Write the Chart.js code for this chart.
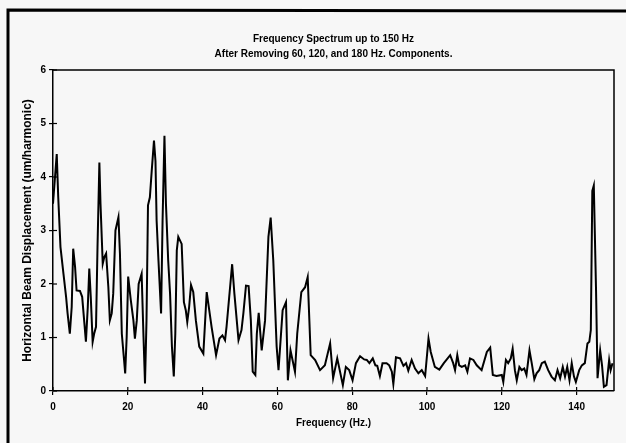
<!DOCTYPE html>
<html>
<head>
<meta charset="utf-8">
<script src="https://cdn.jsdelivr.net/npm/chart.js@4.4.1/dist/chart.umd.min.js"></script>
<style>
  html, body { margin: 0; padding: 0; background: #f7f7f7; }
  #wrap { width: 626px; height: 443px; position: relative; }
</style>
</head>
<body>
<div id="wrap"><canvas id="myChart"></canvas></div>
<script>
// DADOS (frequência em Hz, amplitude em um/harmonic)
var freq = [
  0, 1.0, 1.4, 2.0, 2.8, 3.5, 3.9, 4.5, 5.0, 5.4, 5.9, 6.3, 7.2, 7.8, 8.4, 8.8, 9.3, 9.7, 10.1, 10.6,
  11.0, 11.5, 11.9, 12.4, 12.7, 13.3, 13.7, 14.2, 14.8, 15.2, 15.7, 16.1, 16.7, 17.5, 17.9, 18.4, 19.0, 19.3, 19.7, 20.1,
  20.8, 21.5, 21.9, 22.4, 22.9, 23.7, 24.2, 24.6, 25.0, 25.4, 25.9, 26.4, 27.0, 27.4, 27.7, 28.2, 28.9, 29.3, 29.8, 30.2,
  30.8, 31.3, 31.8, 32.3, 32.7, 33.1, 33.5, 34.4, 35.0, 35.5, 35.9, 36.4, 36.9, 37.5, 38.2, 39.1,
  40.2, 41.1, 42.4, 43.6, 44.5, 45.3, 46.0, 46.4, 47.9, 48.5, 49.6, 50.4, 50.9, 51.6, 52.3, 52.9, 53.4, 54.1, 54.5, 55.0,
  55.8, 56.7, 57.6, 58.2, 58.9, 59.8, 60.3, 61.4, 62.3, 62.8, 63.5, 64.7, 65.3, 66.4, 67.4, 68.1, 68.9, 70.1, 71.4, 72.7,
  74.1, 74.9, 76.0, 77.5, 78.3, 79.2,
  80.1, 81.0, 82.1, 83.2, 83.9, 84.6, 85.5, 86.2, 86.7, 87.4, 88.1, 89.2, 89.9, 90.6, 91.0, 91.7, 92.8, 93.7, 94.4, 95.0,
  95.9, 96.8, 97.7, 98.6, 99.5, 100.4, 101.0, 102.1, 103.3, 104.5, 106.2, 107.0, 107.5, 108.1, 108.6, 109.3, 110.2, 110.8, 111.5, 112.4,
  113.3, 114.6, 116.0, 116.9, 117.6, 118.6,
  120.0, 120.4, 121.1, 121.7, 122.4, 122.9, 123.5, 124.0, 124.7, 125.3, 126.0, 126.6, 127.4, 128.0, 128.7, 129.3, 130.0, 130.7, 131.5, 132.4,
  133.3, 134.2, 134.9, 135.6, 136.3, 136.9, 137.5, 138.1, 138.7, 139.3, 139.8, 140.7, 141.4, 142.2, 142.9, 143.4, 143.8, 144.2, 144.6, 145.2,
  145.6, 146.3, 146.8, 147.3, 148.0, 148.7, 149.1, 149.6
];
var amp = [
  3.5, 4.43, 3.62, 2.69, 2.19, 1.76, 1.45, 1.07, 1.57, 2.66, 2.32, 1.88, 1.87, 1.76, 1.26, 0.92, 1.57, 2.29, 1.76, 0.92,
  1.07, 1.2, 2.69, 4.27, 3.5, 2.38, 2.5, 2.57, 1.94, 1.32, 1.45, 1.82, 3.0, 3.25, 2.57, 1.07, 0.58, 0.33, 1.01, 2.14,
  1.7, 1.32, 0.98, 1.32, 2.0, 2.19, 1.01, 0.14, 1.32, 3.47, 3.62, 4.12, 4.68, 4.3, 3.19, 2.44, 1.45, 3.19, 4.77, 3.5,
  2.44, 1.82, 0.83, 0.27, 1.07, 2.63, 2.88, 2.75, 1.66, 1.51, 1.29, 1.57, 1.98, 1.85, 1.32, 0.83,
  0.7, 1.85, 1.2, 0.67, 0.98, 1.04, 0.95, 1.2, 2.37, 1.82, 0.95, 1.14, 1.45, 1.97, 1.96, 1.32, 0.36, 0.3, 1.07, 1.46,
  0.76, 1.32, 2.88, 3.24, 2.44, 0.83, 0.39, 1.51, 1.66, 0.2, 0.76, 0.36, 1.07, 1.85, 1.94, 2.13, 0.67, 0.58, 0.39, 0.48,
  0.89, 0.24, 0.61, 0.11, 0.45, 0.39,
  0.2, 0.52, 0.65, 0.59, 0.58, 0.52, 0.61, 0.48, 0.47, 0.28, 0.52, 0.52, 0.48, 0.36, 0.13, 0.63, 0.61, 0.47, 0.52, 0.38,
  0.58, 0.42, 0.33, 0.39, 0.28, 0.98, 0.73, 0.45, 0.4, 0.52, 0.67, 0.52, 0.39, 0.67, 0.48, 0.45, 0.48, 0.36, 0.61, 0.58,
  0.48, 0.39, 0.73, 0.81, 0.3, 0.28,
  0.3, 0.17, 0.58, 0.52, 0.61, 0.79, 0.39, 0.2, 0.45, 0.39, 0.42, 0.3, 0.76, 0.52, 0.22, 0.33, 0.39, 0.52, 0.55, 0.39,
  0.27, 0.2, 0.39, 0.24, 0.45, 0.27, 0.45, 0.2, 0.52, 0.27, 0.17, 0.39, 0.48, 0.52, 0.89, 0.92, 1.14, 3.74, 3.84, 1.88,
  0.24, 0.76, 0.48, 0.08, 0.11, 0.58, 0.39, 0.52
];
var xTicks = [0, 20, 40, 60, 80, 100, 120, 140];
var yTicks = [0, 1, 2, 3, 4, 5, 6];
var titulo = ['Frequency Spectrum up to 150 Hz', 'After Removing 60, 120, and 180 Hz. Components.'];

var pontos = freq.map((f, i) => ({ x: f, y: amp[i] }));
var fonte = { family: 'Liberation Sans', weight: 'bold', size: 10 };

// MOLDURA DO PAPEL, CAIXA DO GRÁFICO E TRACINHOS PARA DENTRO
const moldura = {
  id: 'moldura',
  afterDraw(chart) {
    const c = chart.ctx, a = chart.chartArea;
    c.save();
    c.strokeStyle = '#000';
    c.lineWidth = 3;
    c.beginPath();
    c.moveTo(8, 443); c.lineTo(8, 10); c.lineTo(626, 11);
    c.stroke();
    c.lineWidth = 1.5;
    c.beginPath();
    c.moveTo(a.left, a.top); c.lineTo(a.right, a.top); c.lineTo(a.right, a.bottom);
    c.stroke();
    c.lineWidth = 1.2;
    chart.scales.x.ticks.forEach(t => {
      const px = chart.scales.x.getPixelForValue(t.value);
      c.beginPath(); c.moveTo(px, a.bottom); c.lineTo(px, a.bottom - 4); c.stroke();
    });
    chart.scales.y.ticks.forEach(t => {
      const py = chart.scales.y.getPixelForValue(t.value);
      c.beginPath(); c.moveTo(a.left, py); c.lineTo(a.left + 4, py); c.stroke();
    });
    c.restore();
  }
};

const ctx = document.getElementById('myChart').getContext('2d');
const myChart = new Chart(ctx, {
  type: 'line',
  data: {
    datasets: [{
      data: pontos,
      borderColor: '#000',
      borderWidth: 2,
      pointRadius: 0,
      tension: 0,
      fill: false
    }]
  },
  options: {
    responsive: true,
    maintainAspectRatio: false,
    animation: false,
    layout: { padding: { left: 16, right: 12, top: 12, bottom: 8 } },
    plugins: {
      legend: { display: false },
      tooltip: { enabled: false },
      title: {
        display: true,
        fullSize: false,
        text: titulo,
        color: '#000',
        font: { family: 'Liberation Sans', weight: 'bold', size: 10, lineHeight: 1.55 },
        padding: { top: 19, bottom: 8 }
      }
    },
    scales: {
      x: {
        type: 'linear',
        min: 0,
        max: 150,
        afterFit: s => { s.height = 44; },
        afterBuildTicks: s => { s.ticks = xTicks.map(v => ({ value: v })); },
        ticks: { color: '#000', font: fonte, padding: 6, maxRotation: 0 },
        grid: { drawOnChartArea: false, color: '#000', tickLength: 4, lineWidth: 1.2 },
        border: { color: '#000', width: 1.5 },
        title: { display: true, text: 'Frequency (Hz.)', color: '#000', font: fonte, padding: { top: 2, bottom: 6 } }
      },
      y: {
        min: 0,
        max: 6,
        afterFit: s => { s.width = 37; },
        afterBuildTicks: s => { s.ticks = yTicks.map(v => ({ value: v })); },
        ticks: { color: '#000', font: fonte, padding: 3 },
        grid: { drawOnChartArea: false, color: '#000', tickLength: 4, lineWidth: 1.2 },
        border: { color: '#000', width: 1.5 },
        title: { display: true, text: 'Horizontal Beam Displacement (um/harmonic)', color: '#000', font: { family: 'Liberation Sans', weight: 'bold', size: 12 }, padding: { top: 4, bottom: 0 } }
      }
    }
  },
  plugins: [moldura]
});
</script>
</body>
</html>
